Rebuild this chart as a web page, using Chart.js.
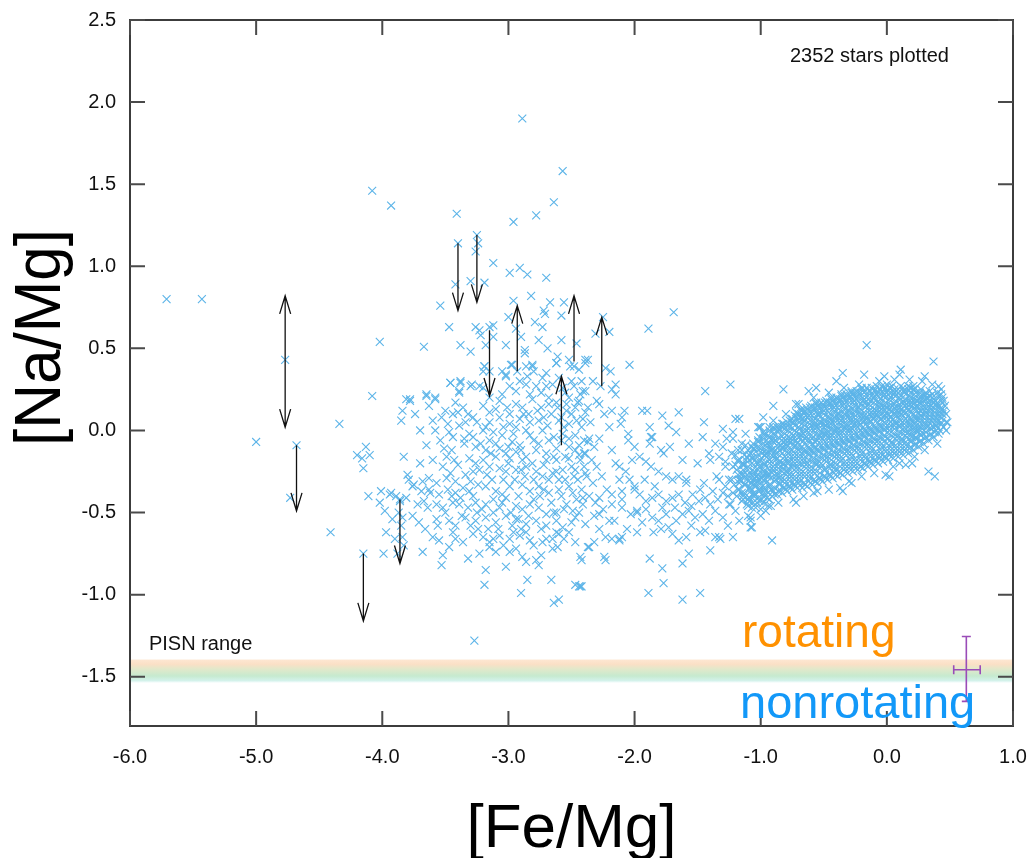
<!DOCTYPE html>
<html><head><meta charset="utf-8">
<script src="https://cdn.jsdelivr.net/npm/chart.js@4.4.1/dist/chart.umd.min.js"></script>
<style>html,body{margin:0;padding:0;background:#fff;overflow:hidden}#wrap{width:1028px;height:858px}</style>
</head><body><div id="wrap"><canvas id="c" width="1028" height="858"></canvas></div>
<script>
// ---------- axes ----------
const xRange = [-6, 1];
const yRange = [-1.8, 2.5];
const xTicks = [-6, -5, -4, -3, -2, -1, 0, 1];
const yTicks = [-1.5, -1.0, -0.5, 0, 0.5, 1.0, 1.5, 2.0, 2.5];
const xTitle = '[Fe/Mg]';
const yTitle = '[Na/Mg]';
const starCountLabel = '2352 stars plotted';

// ---------- stars ([Fe/Mg], [Na/Mg]) ----------
const sparseStars = [
[-5.71,0.80],[-5.43,0.80],[-4.08,1.46],[-3.93,1.37],[-4.02,0.54],[-4.08,0.21],[-4.77,0.43],[-4.34,0.04],
[-5.00,-0.07],[-4.68,-0.09],[-4.73,-0.41],[-4.20,-0.15],[-4.16,-0.17],[-4.13,-0.10],[-4.10,-0.15],[-4.15,-0.23],
[-4.11,-0.40],[-4.01,-0.37],[-3.93,-0.38],[-4.02,-0.44],[-3.98,-0.49],[-3.92,-0.54],[-3.89,-0.40],[-4.41,-0.62],
[-3.97,-0.62],[-4.15,-0.75],[-3.99,-0.75],[-3.88,-0.75],[-3.86,-0.42],[-3.81,0.19],[-3.87,-0.50],[-3.85,-0.58],
[-3.83,-0.70],[-3.90,-0.66]
];
const highStars = [
[-2.89,1.90],[-2.57,1.58],[-2.64,1.39],[-2.78,1.31],[-2.96,1.27],[-3.41,1.32],[-3.40,1.14],[-3.25,1.19],
[-3.24,1.14],[-3.26,1.09],[-3.12,1.02],[-2.99,0.96],[-2.91,0.99],[-2.85,0.95],[-2.70,0.93],[-3.42,0.89],
[-3.30,0.91],[-3.19,0.90],[-3.54,0.76],[-2.82,0.82],[-2.96,0.79],[-2.67,0.78],[-2.56,0.78],[-2.72,0.73],
[-2.71,0.71],[-2.58,0.70],[-3.00,0.69],[-2.79,0.66],[-2.73,0.63],[-3.47,0.63],[-3.26,0.63],[-3.23,0.61],
[-3.22,0.58],[-3.15,0.63],[-3.12,0.64],[-3.12,0.57],[-2.94,0.62],[-2.90,0.57],[-2.76,0.55],[-2.69,0.50],
[-2.58,0.55],[-2.46,0.53],[-3.38,0.52],[-3.30,0.48],[-3.67,0.51],[-3.18,0.52],[-3.02,0.52],[-2.87,0.49],
[-2.87,0.47],[-2.61,0.45],[-2.62,0.41],[-2.52,0.43],[-2.48,0.39],[-2.39,0.43],[-3.19,0.39],[-3.20,0.36],
[-3.05,0.36],[-3.02,0.33],[-2.98,0.40],[-2.93,0.36],[-2.86,0.39],[-2.81,0.40],[-2.80,0.36],[-3.46,0.29],
[-3.38,0.30],[-3.29,0.28],[-3.23,0.27],[-3.78,0.19],[-3.65,0.22],[-3.58,0.20],[-3.39,0.24],
[-1.69,0.72],[-1.89,0.62],[-2.04,0.40],[-2.25,0.69],[-2.20,0.60],[-2.31,0.59],[-2.37,0.43],[-2.23,0.38],
[-2.19,0.36],[-2.33,0.30],[-2.27,0.27],[-2.18,0.25],[-2.15,0.28],[-2.15,0.22],[-2.41,0.24],[-2.44,0.18],
[-2.37,0.14],[-2.28,0.16],[-2.18,0.12],[-2.10,0.08],[-2.11,0.04],[-1.94,0.12],[-1.90,0.12],[-1.78,0.09],
[-1.65,0.11],[-1.73,0.03],[-1.67,-0.01],[-1.86,-0.04],[-1.88,0.02],[-1.44,0.24],[-1.24,0.28],[-1.45,0.05],
[-1.30,0.01],[-1.22,-0.01],[-1.20,0.07],[-1.00,0.02],[-0.90,0.15],[-0.90,0.02]
];
const poorCloud = [
[-3.19,0.39],[-3.15,0.36],[-3.02,0.34],[-2.97,0.40],[-2.81,0.39],[-2.85,0.33],[-2.73,0.32],[-2.62,0.41],
[-2.51,0.39],[-2.44,0.37],[-2.39,0.41],[-3.46,0.29],[-3.38,0.29],[-3.30,0.27],[-3.20,0.26],[-2.99,0.27],
[-2.91,0.30],[-2.86,0.28],[-2.78,0.27],[-2.70,0.27],[-2.65,0.28],[-2.57,0.26],[-2.48,0.27],[-2.39,0.24],
[-3.39,0.23],[-3.15,0.20],[-3.05,0.22],[-2.94,0.24],[-2.83,0.22],[-2.74,0.23],[-2.68,0.20],[-2.62,0.17],
[-2.52,0.20],[-2.43,0.22],[-3.78,0.18],[-3.65,0.21],[-3.58,0.19],[-3.63,0.15],[-3.84,0.12],[-3.85,0.06],
[-3.60,0.06],[-3.53,0.08],[-3.42,0.17],[-3.40,0.11],[-3.44,0.10],[-3.20,0.15],[-3.15,0.11],[-3.07,0.18],
[-3.01,0.14],[-2.94,0.16],[-2.89,0.14],[-2.81,0.19],[-2.74,0.14],[-2.68,0.16],[-2.61,0.14],[-2.54,0.12],
[-2.47,0.14],[-2.39,0.11],[-3.39,0.03],[-3.34,0.05],[-3.28,0.08],[-3.15,0.05],[-3.07,0.08],[-2.99,0.04],
[-2.91,0.07],[-2.83,0.05],[-2.76,0.06],[-2.69,0.03],[-2.60,0.06],[-2.52,0.04],[-2.41,0.07],[-3.47,-0.01],
[-3.35,-0.05],[-3.31,-0.02],[-3.20,0.00],[-3.12,-0.01],[-3.15,-0.06],[-3.05,-0.03],[-2.97,-0.07],[-2.91,-0.09],
[-2.83,-0.03],[-2.73,0.00],[-2.68,-0.06],[-2.57,-0.02],[-2.52,-0.05],[-2.44,-0.09],[-2.37,-0.07],[-3.65,-0.09],
[-3.51,-0.11],[-3.45,-0.12],[-3.35,-0.08],[-3.26,-0.10],[-3.18,-0.12],[-3.07,-0.11],[-3.02,-0.14],[-2.94,-0.13],
[-2.86,-0.16],[-2.78,-0.12],[-2.70,-0.14],[-2.62,-0.11],[-2.47,-0.12],[-2.39,-0.14],[-3.83,-0.16],[-3.49,-0.16],
[-3.43,-0.18],[-3.31,-0.17],[-3.20,-0.18],[-3.10,-0.16],[-2.99,-0.17],[-2.89,-0.18],[-2.81,-0.20],[-2.70,-0.18],
[-2.62,-0.18],[-2.52,-0.17],[-2.43,-0.18],[-3.80,-0.27],[-3.79,-0.30],[-3.75,-0.33],[-3.68,-0.31],[-3.63,-0.29],
[-3.57,-0.32],[-3.49,-0.29],[-3.42,-0.31],[-3.34,-0.27],[-3.28,-0.25],[-3.23,-0.24],[-3.15,-0.22],[-3.07,-0.23],
[-3.02,-0.25],[-2.94,-0.24],[-2.86,-0.22],[-2.78,-0.25],[-2.73,-0.28],[-2.65,-0.26],[-2.57,-0.24],[-2.47,-0.24],
[-2.39,-0.26],[-3.76,-0.34],[-3.69,-0.37],[-3.63,-0.36],[-3.55,-0.39],[-3.48,-0.36],[-3.42,-0.38],[-3.38,-0.41],
[-3.31,-0.37],[-3.24,-0.33],[-3.18,-0.34],[-3.10,-0.37],[-3.05,-0.39],[-2.99,-0.34],[-2.89,-0.33],[-2.83,-0.37],
[-2.76,-0.34],[-2.68,-0.38],[-2.60,-0.36],[-2.49,-0.38],[-2.41,-0.41],[-3.94,-0.39],[-3.86,-0.43],[-3.81,-0.41],
[-3.67,-0.43],[-3.64,-0.47],[-3.57,-0.45],[-3.52,-0.47],[-3.44,-0.44],[-3.39,-0.45],[-3.32,-0.47],[-3.26,-0.44],
[-3.18,-0.45],[-3.12,-0.42],[-3.07,-0.47],[-3.02,-0.41],[-2.94,-0.46],[-2.89,-0.48],[-2.83,-0.45],[-2.76,-0.47],
[-2.70,-0.51],[-2.62,-0.50],[-2.54,-0.45],[-2.49,-0.49],[-2.41,-0.45],[-3.84,-0.53],[-3.71,-0.56],[-3.57,-0.54],
[-3.47,-0.55],[-3.42,-0.58],[-3.34,-0.53],[-3.26,-0.55],[-3.18,-0.53],[-3.10,-0.56],[-3.02,-0.52],[-2.94,-0.54],
[-2.86,-0.57],[-2.78,-0.55],[-2.70,-0.58],[-2.62,-0.55],[-2.57,-0.59],[-2.47,-0.53],[-2.39,-0.57],[-3.84,-0.65],
[-3.60,-0.65],[-3.55,-0.67],[-3.42,-0.66],[-3.36,-0.68],[-3.28,-0.63],[-3.20,-0.65],[-3.15,-0.68],[-3.07,-0.64],
[-2.99,-0.66],[-2.91,-0.64],[-2.83,-0.67],[-2.73,-0.68],[-2.65,-0.66],[-2.60,-0.63],[-2.47,-0.68],[-2.37,-0.71],
[-3.68,-0.74],[-3.52,-0.76],[-3.47,-0.71],[-3.32,-0.78],[-3.23,-0.75],[-3.15,-0.71],[-3.10,-0.74],[-2.99,-0.74],
[-2.94,-0.72],[-2.89,-0.77],[-2.86,-0.80],[-2.78,-0.79],[-2.74,-0.76],[-2.65,-0.72],[-2.61,-0.71],[-2.43,-0.77],
[-3.53,-0.82],[-3.18,-0.85],[-3.02,-0.83],[-2.76,-0.82],[-3.19,-0.94],[-2.85,-0.91],[-2.66,-0.91],[-2.90,-0.99],
[-2.47,-0.94],[-2.43,-0.95],[-2.64,-1.05],[-2.60,-1.03],[-3.27,-1.28]
];
const poorExtra = [
[-3.28,-0.40],[-3.21,-0.48],[-3.13,-0.30],[-3.05,-0.44],[-2.98,-0.50],[-2.92,-0.40],[-2.87,-0.28],[-2.80,-0.42],
[-2.72,-0.36],[-2.66,-0.44],[-2.58,-0.40],[-2.55,-0.30],[-2.46,-0.42],[-2.50,-0.56],[-2.90,-0.60],[-2.97,-0.58],
[-3.08,-0.60],[-3.24,-0.60],[-3.37,-0.52],[-3.45,-0.40],[-3.22,-0.08],[-3.10,-0.08],[-2.96,-0.02],[-2.86,0.00],
[-2.76,-0.08],[-2.64,-0.04],[-2.56,0.02],[-2.50,0.10],[-2.45,0.17],[-2.42,0.02],[-2.55,0.23],[-2.60,0.32],
[-2.70,0.35],[-2.77,0.12],[-2.88,0.10],[-2.99,0.10],[-3.10,0.13],[-3.25,0.05],[-3.36,0.14],[-3.48,0.04],
[-2.58,-0.06],[-2.52,-0.10],[-2.47,-0.03],[-2.44,-0.15],[-2.40,-0.06],[-2.55,-0.16],[-2.50,-0.22],[-2.62,-0.25],
[-2.45,-0.30],[-2.40,-0.22],
[-2.36,-0.05],[-2.32,-0.10],[-2.40,-0.14],[-2.34,-0.18],[-2.30,-0.22],[-2.38,-0.28],[-2.33,-0.32],[-2.42,-0.36],
[-2.36,-0.40],[-2.31,-0.44],[-2.28,-0.05],[-2.26,-0.28],[-2.22,-0.36],[-2.25,-0.48],[-2.18,-0.12],[-2.20,0.02],
[-2.15,-0.20],[-2.12,-0.30],[-2.10,-0.42],[-2.16,-0.55],[-2.08,0.12],[-2.05,-0.02],[-2.02,-0.18],[-2.06,-0.60],
[-2.00,-0.36],[-1.98,-0.50],[-2.12,-0.66],[-2.28,-0.60],[-2.32,-0.52],[-2.24,0.10],[-2.30,0.18],[-2.35,0.05],
[-3.52,-0.22],[-3.46,-0.26],[-3.40,-0.21],[-3.36,-0.35],[-3.30,-0.31],[-3.26,-0.20],[-3.17,-0.27],[-3.12,-0.50],
[-3.04,-0.30],[-3.00,-0.20],[-2.95,-0.30],[-2.90,-0.24],[-2.84,-0.52],[-2.80,-0.30],[-2.75,-0.40],[-2.72,-0.21],
[-2.68,-0.30],[-2.64,-0.50],[-2.60,-0.30],[-2.56,-0.48],[-2.52,-0.34],[-2.48,-0.28],[-2.44,-0.50],[-3.56,-0.58],
[-3.50,-0.50],[-3.44,-0.62],[-3.30,-0.58],[-3.25,-0.50],[-3.16,-0.60],[-3.12,-0.66],[-3.04,-0.70],[-2.96,-0.62],
[-2.92,-0.54],[-2.86,-0.62],[-2.80,-0.70],[-2.74,-0.60],[-2.70,-0.66],[-2.62,-0.62],[-2.56,-0.66],[-2.52,-0.62],
[-3.58,0.00],[-3.54,-0.06],[-3.50,0.12],[-3.44,-0.04],[-3.32,0.10],[-3.28,-0.04],[-3.18,0.02],[-3.14,-0.14],
[-3.04,0.02],[-3.00,-0.10],[-2.94,0.02],[-2.90,-0.12],[-2.84,0.10],[-2.80,-0.06],[-2.72,0.08],[-2.66,0.10],
[-2.64,-0.16],[-2.58,0.08],[-2.54,0.16],[-2.50,0.30],[-2.46,0.06],[-2.42,0.30],[-3.70,-0.20],[-3.72,-0.45],
[-3.66,-0.60],[-3.76,-0.52],[-3.62,-0.38],[-3.60,-0.18],[-3.70,0.00],[-3.74,0.10]
];
const bridgeStars = [
[-1.88,-0.78],[-1.78,-0.84],[-1.77,-0.93],[-1.89,-0.99],[-1.62,-1.03],[-1.48,-0.99],[-1.57,-0.75],[-1.62,-0.81],
[-1.40,-0.73],[-1.33,-0.65],[-0.91,-0.67],[-2.44,-0.95],[-2.42,-0.95],[-2.23,-0.79],[-2.24,-0.77],[-2.36,-0.71],
[-2.32,-0.68],[-2.42,-0.79],
[-1.87,-0.04],[-1.79,-0.12],[-1.77,-0.14],[-1.96,-0.16],[-1.91,-0.19],[-1.87,-0.22],[-1.81,-0.25],[-1.75,-0.28],
[-1.70,-0.30],[-1.65,-0.28],[-1.59,-0.30],[-1.57,-0.08],[-1.46,-0.04],[-1.45,-0.32],[-1.41,-0.14],[-1.36,-0.08],
[-1.33,-0.16],[-1.30,-0.10],[-1.28,-0.19],[-1.23,-0.14],[-1.20,-0.21],[-1.15,-0.08],[-1.12,-0.18],[-1.07,-0.10],
[-1.01,-0.04],[-0.96,-0.14],[-0.91,-0.06],[-0.88,-0.18],
[-2.12,-0.22],[-2.07,-0.25],[-2.04,-0.30],[-2.00,-0.34],[-1.96,-0.39],[-1.91,-0.43],[-1.86,-0.41],[-1.81,-0.39],
[-1.75,-0.43],[-1.70,-0.41],[-1.65,-0.39],[-1.59,-0.32],[-1.54,-0.39],[-1.49,-0.43],[-1.44,-0.41],[-1.38,-0.37],
[-1.33,-0.30],[-1.28,-0.34],[-1.23,-0.30],[-1.17,-0.32],[-1.12,-0.28],[-1.07,-0.39],[-1.01,-0.30],[-0.96,-0.26],
[-0.88,-0.30],
[-2.10,-0.47],[-2.03,-0.51],[-1.98,-0.49],[-1.91,-0.48],[-1.86,-0.53],[-1.81,-0.55],[-1.75,-0.51],[-1.73,-0.59],
[-1.67,-0.55],[-1.62,-0.51],[-1.57,-0.49],[-1.52,-0.53],[-1.46,-0.51],[-1.41,-0.55],[-1.36,-0.49],[-1.30,-0.53],
[-1.25,-0.45],[-1.20,-0.49],[-1.17,-0.55],[-1.08,-0.53],[-1.08,-0.59],
[-2.23,-0.65],[-2.18,-0.66],[-2.12,-0.67],[-2.10,-0.65],[-1.98,-0.62],[-1.79,-0.60],[-1.70,-0.63],[-1.65,-0.67],
[-1.59,-0.65],[-1.44,-0.61],[-1.36,-0.65],[-1.32,-0.66],
[-2.28,-0.51],[-2.20,-0.55],[-2.18,-0.45],[-2.28,-0.41],[-2.18,-0.39],[-2.10,-0.37],
[-1.92,-0.30],[-1.84,-0.34],[-1.78,-0.47],[-1.68,-0.47],[-1.60,-0.44],[-1.55,-0.46],[-1.48,-0.36],[-1.40,-0.45],
[-1.34,-0.42],[-1.26,-0.40],[-1.22,-0.38],[-1.14,-0.42],[-1.10,-0.46],[-1.04,-0.47],[-1.00,-0.52],[-0.98,-0.44],
[-1.02,-0.20],[-1.05,-0.26],[-1.18,-0.12],[-1.27,-0.05],[-1.50,-0.20],[-1.62,-0.18],[-1.72,-0.10],[-1.88,-0.08],
[-2.00,-0.10],[-2.05,-0.06],[-1.94,-0.56],[-1.85,-0.62],[-1.55,-0.58],[-1.48,-0.62],[-1.26,-0.58],[-1.22,-0.65]
];
const diskOutliers = [
[-0.16,0.52],[0.37,0.42],[0.11,0.37],[-0.35,0.35],[-0.18,0.34],[-0.02,0.33],[-0.82,0.25],[-0.56,0.26],
[-0.72,0.16],[-1.01,0.02],[-1.17,0.07],[0.33,-0.25],[0.38,-0.28],[0.15,-0.21],[0.20,-0.20],[-0.01,-0.27],
[0.02,-0.28],[-0.72,-0.44],[-1.08,-0.55],[-1.07,-0.59],[-0.96,-0.49],[-0.92,-0.46],[-0.55,-0.37],[-0.37,-0.35],
[-0.35,-0.37],[-0.28,-0.32],[0.41,0.27],[0.44,0.20],[0.45,0.12],[0.48,0.05],[0.47,0.00]
];
const diskFringe = [
[-1.25,-0.30],[-1.28,-0.22],[-1.30,-0.38],[-1.24,-0.45],[-1.35,-0.28],[-1.40,-0.18],[-1.22,-0.05],[-1.10,-0.52],
[-1.00,-0.48],[-0.94,-0.46],[-0.86,-0.44],[-0.74,-0.42],[-0.66,-0.40],[-0.58,-0.38],[-0.46,-0.36],[-0.30,-0.31],
[-0.20,-0.28],[-0.10,-0.26],[0.05,-0.22],[0.10,-0.20],[0.22,-0.16],[0.30,-0.12],[0.40,-0.08],[0.47,0.05],
[0.47,0.10],[0.46,0.15],[0.43,0.25],[0.36,0.28],[0.28,0.30],[0.18,0.31],[0.06,0.31],[-0.06,0.30],
[-0.22,0.28],[-0.34,0.26],[-0.46,0.23],[-0.58,0.20],[-0.70,0.16],[-0.80,0.10],[-0.90,0.06],[-1.02,0.02],
[-1.12,-0.02],[-0.98,0.08],[-0.62,0.24],[-0.40,0.30],[0.10,0.34],[0.30,0.33]
];
const diskCloud = [
[-1.19,-0.40],[-1.21,-0.33],[-1.18,-0.27],[-1.22,-0.22],[-1.20,-0.15],
[-1.15,-0.43],[-1.17,-0.36],[-1.16,-0.30],[-1.14,-0.24],[-1.18,-0.19],[-1.15,-0.12],
[-1.11,-0.45],[-1.13,-0.38],[-1.12,-0.33],[-1.10,-0.28],[-1.13,-0.21],[-1.11,-0.16],[-1.12,-0.09],
[-1.07,-0.47],[-1.09,-0.41],[-1.08,-0.35],[-1.06,-0.30],[-1.09,-0.26],[-1.07,-0.20],[-1.08,-0.14],[-1.06,-0.08],
[-1.03,-0.44],[-1.05,-0.39],[-1.04,-0.34],[-1.02,-0.29],[-1.05,-0.25],[-1.03,-0.19],[-1.04,-0.13],[-1.02,-0.07],
[-0.99,-0.42],[-1.01,-0.37],[-1.00,-0.32],[-0.98,-0.27],[-1.01,-0.22],[-0.99,-0.17],[-1.00,-0.11],[-0.98,-0.05],
[-0.95,-0.41],[-0.97,-0.36],[-0.96,-0.30],[-0.94,-0.26],[-0.97,-0.21],[-0.95,-0.16],[-0.96,-0.12],[-0.94,-0.07],[-0.97,-0.02],
[-0.91,-0.40],[-0.93,-0.34],[-0.92,-0.29],[-0.90,-0.24],[-0.93,-0.20],[-0.91,-0.15],[-0.92,-0.10],[-0.90,-0.05],[-0.93,0.00],
[-0.87,-0.39],[-0.89,-0.35],[-0.88,-0.30],[-0.86,-0.25],[-0.89,-0.21],[-0.87,-0.17],[-0.88,-0.12],[-0.86,-0.08],[-0.89,-0.03],[-0.87,0.02],
[-0.83,-0.38],[-0.85,-0.33],[-0.84,-0.28],[-0.82,-0.23],[-0.85,-0.19],[-0.83,-0.14],[-0.84,-0.09],[-0.82,-0.05],[-0.85,0.00],[-0.83,0.04],
[-0.79,-0.37],[-0.81,-0.32],[-0.80,-0.27],[-0.78,-0.23],[-0.81,-0.18],[-0.79,-0.13],[-0.80,-0.08],[-0.78,-0.04],[-0.81,0.01],[-0.79,0.05],
[-0.75,-0.36],[-0.77,-0.31],[-0.76,-0.26],[-0.74,-0.21],[-0.77,-0.17],[-0.75,-0.12],[-0.76,-0.07],[-0.74,-0.03],[-0.77,0.02],[-0.75,0.07],
[-0.71,-0.35],[-0.73,-0.30],[-0.72,-0.25],[-0.70,-0.20],[-0.73,-0.16],[-0.71,-0.11],[-0.72,-0.06],[-0.70,-0.02],[-0.73,0.03],[-0.71,0.08],[-0.72,0.11],
[-0.67,-0.35],[-0.69,-0.29],[-0.68,-0.24],[-0.66,-0.19],[-0.69,-0.15],[-0.67,-0.10],[-0.68,-0.05],[-0.66,0.00],[-0.69,0.05],[-0.67,0.09],[-0.68,0.12],
[-0.63,-0.34],[-0.65,-0.28],[-0.64,-0.23],[-0.62,-0.18],[-0.65,-0.13],[-0.63,-0.09],[-0.64,-0.04],[-0.62,0.01],[-0.65,0.06],[-0.63,0.10],[-0.64,0.14],
[-0.59,-0.33],[-0.61,-0.27],[-0.60,-0.22],[-0.58,-0.17],[-0.61,-0.12],[-0.59,-0.08],[-0.60,-0.03],[-0.58,0.02],[-0.61,0.06],[-0.59,0.11],[-0.60,0.15],
[-0.55,-0.32],[-0.57,-0.26],[-0.56,-0.21],[-0.54,-0.16],[-0.57,-0.11],[-0.55,-0.06],[-0.56,-0.02],[-0.54,0.03],[-0.57,0.07],[-0.55,0.12],[-0.56,0.16],
[-0.51,-0.31],[-0.53,-0.26],[-0.52,-0.20],[-0.50,-0.15],[-0.53,-0.10],[-0.51,-0.05],[-0.52,-0.01],[-0.50,0.04],[-0.53,0.08],[-0.51,0.13],[-0.52,0.17],
[-0.47,-0.30],[-0.49,-0.24],[-0.48,-0.19],[-0.46,-0.14],[-0.49,-0.09],[-0.47,-0.04],[-0.48,0.00],[-0.46,0.05],[-0.49,0.09],[-0.47,0.14],[-0.48,0.18],
[-0.43,-0.29],[-0.45,-0.23],[-0.44,-0.18],[-0.42,-0.13],[-0.45,-0.08],[-0.43,-0.03],[-0.44,0.01],[-0.42,0.06],[-0.45,0.10],[-0.43,0.15],[-0.44,0.19],
[-0.39,-0.28],[-0.41,-0.22],[-0.40,-0.17],[-0.38,-0.12],[-0.41,-0.07],[-0.39,-0.02],[-0.40,0.02],[-0.38,0.07],[-0.41,0.11],[-0.39,0.16],[-0.40,0.20],
[-0.35,-0.27],[-0.37,-0.22],[-0.36,-0.16],[-0.34,-0.11],[-0.37,-0.06],[-0.35,-0.01],[-0.36,0.03],[-0.34,0.08],[-0.37,0.12],[-0.35,0.17],[-0.36,0.21],
[-0.31,-0.26],[-0.33,-0.21],[-0.32,-0.15],[-0.30,-0.10],[-0.33,-0.05],[-0.31,0.00],[-0.32,0.04],[-0.30,0.09],[-0.33,0.13],[-0.31,0.18],[-0.32,0.22],
[-0.27,-0.25],[-0.29,-0.20],[-0.28,-0.14],[-0.26,-0.09],[-0.29,-0.04],[-0.27,0.01],[-0.28,0.05],[-0.26,0.10],[-0.29,0.14],[-0.27,0.19],[-0.28,0.23],
[-0.23,-0.24],[-0.25,-0.19],[-0.24,-0.13],[-0.22,-0.08],[-0.25,-0.03],[-0.23,0.02],[-0.24,0.06],[-0.22,0.11],[-0.25,0.15],[-0.23,0.20],[-0.24,0.24],
[-0.19,-0.23],[-0.21,-0.18],[-0.20,-0.12],[-0.18,-0.07],[-0.21,-0.02],[-0.19,0.02],[-0.20,0.07],[-0.18,0.11],[-0.21,0.16],[-0.19,0.20],[-0.20,0.25],
[-0.15,-0.22],[-0.17,-0.17],[-0.16,-0.11],[-0.14,-0.06],[-0.17,-0.01],[-0.15,0.03],[-0.16,0.08],[-0.14,0.12],[-0.17,0.17],[-0.15,0.21],[-0.16,0.26],
[-0.11,-0.21],[-0.13,-0.16],[-0.12,-0.10],[-0.10,-0.05],[-0.13,0.00],[-0.11,0.04],[-0.12,0.09],[-0.10,0.13],[-0.13,0.18],[-0.11,0.22],[-0.12,0.26],
[-0.07,-0.20],[-0.09,-0.15],[-0.08,-0.09],[-0.06,-0.04],[-0.09,0.01],[-0.07,0.05],[-0.08,0.10],[-0.06,0.14],[-0.09,0.18],[-0.07,0.23],[-0.08,0.27],
[-0.03,-0.19],[-0.05,-0.14],[-0.04,-0.08],[-0.02,-0.03],[-0.05,0.02],[-0.03,0.06],[-0.04,0.10],[-0.02,0.15],[-0.05,0.19],[-0.03,0.23],[-0.04,0.27],
[0.01,-0.18],[-0.01,-0.13],[0.00,-0.08],[0.02,-0.02],[-0.01,0.02],[0.01,0.07],[0.00,0.11],[0.02,0.15],[-0.01,0.20],[0.01,0.24],[0.00,0.28],
[0.05,-0.17],[0.03,-0.12],[0.04,-0.07],[0.06,-0.02],[0.03,0.03],[0.05,0.07],[0.04,0.12],[0.06,0.16],[0.03,0.20],[0.05,0.24],[0.04,0.27],
[0.09,-0.16],[0.07,-0.11],[0.08,-0.06],[0.10,-0.01],[0.07,0.04],[0.09,0.08],[0.08,0.12],[0.10,0.16],[0.07,0.21],[0.09,0.25],
[0.13,-0.15],[0.11,-0.10],[0.12,-0.05],[0.14,0.00],[0.11,0.04],[0.13,0.09],[0.12,0.13],[0.14,0.17],[0.11,0.21],[0.13,0.26],
[0.17,-0.14],[0.15,-0.09],[0.16,-0.04],[0.18,0.01],[0.15,0.05],[0.17,0.09],[0.16,0.14],[0.18,0.18],[0.15,0.22],[0.17,0.27],
[0.21,-0.12],[0.19,-0.07],[0.20,-0.02],[0.22,0.02],[0.19,0.06],[0.21,0.10],[0.20,0.15],[0.22,0.19],[0.19,0.23],[0.21,0.27],
[0.25,-0.10],[0.23,-0.05],[0.24,-0.01],[0.26,0.03],[0.23,0.07],[0.25,0.11],[0.24,0.15],[0.26,0.19],[0.23,0.23],
[0.29,-0.08],[0.27,-0.03],[0.28,0.01],[0.30,0.05],[0.27,0.09],[0.29,0.13],[0.28,0.17],[0.30,0.21],[0.27,0.25],
[0.33,-0.06],[0.31,-0.01],[0.32,0.03],[0.34,0.07],[0.31,0.11],[0.33,0.15],[0.32,0.19],[0.34,0.24],
[0.37,-0.04],[0.35,0.01],[0.36,0.05],[0.38,0.09],[0.35,0.13],[0.37,0.17],[0.36,0.22],
[0.41,-0.02],[0.39,0.03],[0.40,0.07],[0.42,0.11],[0.39,0.16],[0.41,0.21],
[0.45,0.02],[0.43,0.08],[0.44,0.13],[0.45,0.18]
];
const diskCloudInner = [
[-1.18,-0.36],[-1.17,-0.30],[-1.19,-0.24],[-1.18,-0.18],
[-1.14,-0.40],[-1.13,-0.33],[-1.15,-0.27],[-1.14,-0.21],[-1.13,-0.15],
[-1.10,-0.42],[-1.09,-0.35],[-1.11,-0.30],[-1.10,-0.24],[-1.09,-0.18],[-1.10,-0.12],
[-1.06,-0.44],[-1.05,-0.38],[-1.07,-0.32],[-1.06,-0.28],[-1.05,-0.23],[-1.07,-0.17],[-1.06,-0.11],
[-1.02,-0.41],[-1.01,-0.36],[-1.03,-0.31],[-1.02,-0.27],[-1.01,-0.22],[-1.03,-0.16],[-1.02,-0.10],
[-0.98,-0.40],[-0.97,-0.35],[-0.99,-0.29],[-0.98,-0.25],[-0.97,-0.20],[-0.99,-0.14],[-0.98,-0.08],[-0.97,-0.03],
[-0.94,-0.38],[-0.93,-0.33],[-0.95,-0.28],[-0.94,-0.23],[-0.93,-0.18],[-0.95,-0.14],[-0.94,-0.09],[-0.93,-0.04],
[-0.90,-0.37],[-0.89,-0.31],[-0.91,-0.26],[-0.90,-0.22],[-0.89,-0.17],[-0.91,-0.12],[-0.90,-0.07],[-0.89,-0.02],
[-0.86,-0.37],[-0.85,-0.32],[-0.87,-0.27],[-0.86,-0.23],[-0.85,-0.19],[-0.87,-0.14],[-0.86,-0.10],[-0.85,-0.05],[-0.87,0.00],
[-0.82,-0.35],[-0.81,-0.30],[-0.83,-0.25],[-0.82,-0.21],[-0.81,-0.16],[-0.83,-0.11],[-0.82,-0.07],[-0.81,-0.02],[-0.83,0.02],
[-0.78,-0.34],[-0.77,-0.29],[-0.79,-0.25],[-0.78,-0.20],[-0.77,-0.15],[-0.79,-0.10],[-0.78,-0.06],[-0.77,-0.01],[-0.79,0.03],
[-0.74,-0.33],[-0.73,-0.28],[-0.75,-0.23],[-0.74,-0.19],[-0.73,-0.14],[-0.75,-0.09],[-0.74,-0.05],[-0.73,0.00],[-0.75,0.05],
[-0.70,-0.32],[-0.69,-0.27],[-0.71,-0.22],[-0.70,-0.18],[-0.69,-0.13],[-0.71,-0.08],[-0.70,-0.04],[-0.69,0.01],[-0.71,0.06],[-0.70,0.10],
[-0.66,-0.32],[-0.65,-0.26],[-0.67,-0.21],[-0.66,-0.17],[-0.65,-0.12],[-0.67,-0.07],[-0.66,-0.02],[-0.65,0.03],[-0.67,0.07],[-0.66,0.11],
[-0.62,-0.31],[-0.61,-0.25],[-0.63,-0.20],[-0.62,-0.15],[-0.61,-0.11],[-0.63,-0.06],[-0.62,-0.01],[-0.61,0.04],[-0.63,0.08],[-0.62,0.12],
[-0.58,-0.30],[-0.57,-0.24],[-0.59,-0.19],[-0.58,-0.14],[-0.57,-0.10],[-0.59,-0.05],[-0.58,0.00],[-0.57,0.04],[-0.59,0.09],[-0.58,0.13],
[-0.54,-0.29],[-0.53,-0.23],[-0.55,-0.18],[-0.54,-0.13],[-0.53,-0.08],[-0.55,-0.04],[-0.54,0.01],[-0.53,0.05],[-0.55,0.10],[-0.54,0.14],
[-0.50,-0.28],[-0.49,-0.23],[-0.51,-0.17],[-0.50,-0.12],[-0.49,-0.07],[-0.51,-0.03],[-0.50,0.02],[-0.49,0.06],[-0.51,0.11],[-0.50,0.15],
[-0.46,-0.27],[-0.45,-0.21],[-0.47,-0.16],[-0.46,-0.11],[-0.45,-0.06],[-0.47,-0.02],[-0.46,0.03],[-0.45,0.07],[-0.47,0.12],[-0.46,0.16],
[-0.42,-0.26],[-0.41,-0.20],[-0.43,-0.15],[-0.42,-0.10],[-0.41,-0.05],[-0.43,-0.01],[-0.42,0.04],[-0.41,0.08],[-0.43,0.13],[-0.42,0.17],
[-0.38,-0.25],[-0.37,-0.19],[-0.39,-0.14],[-0.38,-0.09],[-0.37,-0.04],[-0.39,0.00],[-0.38,0.05],[-0.37,0.09],[-0.39,0.14],[-0.38,0.18],
[-0.34,-0.24],[-0.33,-0.19],[-0.35,-0.13],[-0.34,-0.08],[-0.33,-0.03],[-0.35,0.01],[-0.34,0.06],[-0.33,0.10],[-0.35,0.15],[-0.34,0.19],
[-0.30,-0.23],[-0.29,-0.18],[-0.31,-0.12],[-0.30,-0.07],[-0.29,-0.02],[-0.31,0.02],[-0.30,0.07],[-0.29,0.11],[-0.31,0.16],[-0.30,0.20],
[-0.26,-0.22],[-0.25,-0.17],[-0.27,-0.11],[-0.26,-0.06],[-0.25,-0.01],[-0.27,0.03],[-0.26,0.08],[-0.25,0.12],[-0.27,0.17],[-0.26,0.21],
[-0.22,-0.21],[-0.21,-0.16],[-0.23,-0.10],[-0.22,-0.05],[-0.21,0.00],[-0.23,0.04],[-0.22,0.09],[-0.21,0.13],[-0.23,0.18],[-0.22,0.22],
[-0.18,-0.20],[-0.17,-0.15],[-0.19,-0.09],[-0.18,-0.04],[-0.17,0.00],[-0.19,0.05],[-0.18,0.09],[-0.17,0.14],[-0.19,0.18],[-0.18,0.23],
[-0.14,-0.19],[-0.13,-0.14],[-0.15,-0.08],[-0.14,-0.03],[-0.13,0.01],[-0.15,0.06],[-0.14,0.10],[-0.13,0.15],[-0.15,0.19],[-0.14,0.24],
[-0.10,-0.18],[-0.09,-0.13],[-0.11,-0.07],[-0.10,-0.02],[-0.09,0.02],[-0.11,0.07],[-0.10,0.11],[-0.09,0.16],[-0.11,0.20],[-0.10,0.24],
[-0.06,-0.17],[-0.05,-0.12],[-0.07,-0.06],[-0.06,-0.01],[-0.05,0.03],[-0.07,0.08],[-0.06,0.12],[-0.05,0.16],[-0.07,0.21],[-0.06,0.25],
[-0.02,-0.16],[-0.01,-0.11],[-0.03,-0.05],[-0.02,0.00],[-0.01,0.04],[-0.03,0.08],[-0.02,0.13],[-0.01,0.17],[-0.03,0.21],[-0.02,0.25],
[0.02,-0.15],[0.03,-0.10],[0.01,-0.05],[0.02,0.00],[0.03,0.05],[0.01,0.09],[0.02,0.13],[0.03,0.18],[0.01,0.22],[0.02,0.26],
[0.06,-0.14],[0.07,-0.09],[0.05,-0.04],[0.06,0.01],[0.07,0.05],[0.05,0.10],[0.06,0.14],[0.07,0.18],[0.05,0.22],[0.06,0.25],
[0.10,-0.13],[0.11,-0.08],[0.09,-0.03],[0.10,0.02],[0.11,0.06],[0.09,0.10],[0.10,0.14],[0.11,0.19],[0.09,0.23],
[0.14,-0.12],[0.15,-0.07],[0.13,-0.02],[0.14,0.02],[0.15,0.07],[0.13,0.11],[0.14,0.15],[0.15,0.19],[0.13,0.24],
[0.18,-0.11],[0.19,-0.06],[0.17,-0.01],[0.18,0.03],[0.19,0.07],[0.17,0.12],[0.18,0.16],[0.19,0.20],[0.17,0.25],
[0.22,-0.09],[0.23,-0.04],[0.21,0.00],[0.22,0.04],[0.23,0.08],[0.21,0.13],[0.22,0.17],[0.23,0.21],[0.21,0.25],
[0.26,-0.07],[0.27,-0.03],[0.25,0.01],[0.26,0.05],[0.27,0.09],[0.25,0.13],[0.26,0.17],[0.27,0.21],
[0.30,-0.05],[0.31,-0.01],[0.29,0.03],[0.30,0.07],[0.31,0.11],[0.29,0.15],[0.30,0.19],[0.31,0.23],
[0.34,-0.03],[0.35,0.01],[0.33,0.05],[0.34,0.09],[0.35,0.13],[0.33,0.17],[0.34,0.21],
[0.38,-0.01],[0.39,0.03],[0.37,0.07],[0.38,0.11],[0.39,0.15],[0.37,0.19],
[0.42,0.00],[0.43,0.05],[0.41,0.09],[0.42,0.13],[0.43,0.18]
];
const diskCloudFill = [
[-1.15,-0.38],[-1.16,-0.31],[-1.14,-0.20],[-1.15,-0.26],
[-1.09,-0.43],[-1.08,-0.32],[-1.10,-0.22],[-1.09,-0.15],[-1.08,-0.37],
[-1.05,-0.40],[-1.04,-0.28],[-1.06,-0.17],[-1.05,-0.11],[-1.04,-0.33],
[-1.01,-0.43],[-1.00,-0.35],[-1.02,-0.24],[-1.01,-0.19],[-1.00,-0.13],[-1.02,-0.06],
[-0.97,-0.38],[-0.96,-0.32],[-0.98,-0.23],[-0.97,-0.15],[-0.96,-0.09],[-0.98,-0.01],
[-0.93,-0.42],[-0.92,-0.36],[-0.94,-0.27],[-0.93,-0.18],[-0.92,-0.12],[-0.94,-0.03],[-0.93,0.02],
[-0.89,-0.39],[-0.88,-0.28],[-0.90,-0.24],[-0.89,-0.15],[-0.88,-0.06],[-0.90,0.01],
[-0.85,-0.36],[-0.84,-0.30],[-0.86,-0.21],[-0.85,-0.12],[-0.84,-0.03],[-0.86,0.03],
[-0.81,-0.35],[-0.80,-0.25],[-0.82,-0.20],[-0.81,-0.10],[-0.80,-0.06],[-0.82,0.04],
[-0.77,-0.34],[-0.76,-0.28],[-0.78,-0.19],[-0.77,-0.13],[-0.76,-0.05],[-0.78,0.00],[-0.77,0.06],
[-0.73,-0.33],[-0.72,-0.23],[-0.74,-0.17],[-0.73,-0.09],[-0.72,-0.01],[-0.74,0.05],[-0.73,0.09],
[-0.69,-0.31],[-0.68,-0.26],[-0.70,-0.16],[-0.69,-0.11],[-0.68,-0.03],[-0.70,0.02],[-0.69,0.08],[-0.68,0.13],
[-0.65,-0.33],[-0.64,-0.21],[-0.66,-0.15],[-0.65,-0.05],[-0.64,0.00],[-0.66,0.05],[-0.65,0.12],
[-0.61,-0.29],[-0.60,-0.24],[-0.62,-0.14],[-0.61,-0.06],[-0.60,0.03],[-0.62,0.09],[-0.61,0.14],
[-0.57,-0.31],[-0.56,-0.20],[-0.58,-0.13],[-0.57,-0.07],[-0.56,0.02],[-0.58,0.06],[-0.57,0.14],[-0.56,0.17],
[-0.53,-0.29],[-0.52,-0.22],[-0.54,-0.12],[-0.53,-0.03],[-0.52,0.05],[-0.54,0.10],[-0.53,0.16],
[-0.49,-0.28],[-0.48,-0.17],[-0.50,-0.11],[-0.49,-0.02],[-0.48,0.03],[-0.50,0.12],[-0.49,0.17],
[-0.45,-0.27],[-0.44,-0.21],[-0.46,-0.10],[-0.45,-0.04],[-0.44,0.04],[-0.46,0.08],[-0.45,0.17],[-0.44,0.20],
[-0.41,-0.24],[-0.40,-0.15],[-0.42,-0.09],[-0.41,0.00],[-0.40,0.09],[-0.42,0.14],[-0.41,0.19],
[-0.37,-0.26],[-0.36,-0.18],[-0.38,-0.08],[-0.37,-0.02],[-0.36,0.06],[-0.38,0.10],[-0.37,0.19],[-0.36,0.22],
[-0.33,-0.23],[-0.32,-0.13],[-0.34,-0.07],[-0.33,0.02],[-0.32,0.11],[-0.34,0.16],[-0.33,0.21],
[-0.29,-0.22],[-0.28,-0.16],[-0.30,-0.06],[-0.29,0.00],[-0.28,0.07],[-0.30,0.12],[-0.29,0.21],[-0.28,0.24],
[-0.25,-0.21],[-0.24,-0.11],[-0.26,-0.05],[-0.25,0.04],[-0.24,0.13],[-0.26,0.18],[-0.25,0.23],
[-0.21,-0.22],[-0.20,-0.14],[-0.22,-0.04],[-0.21,0.04],[-0.20,0.09],[-0.22,0.14],[-0.21,0.23],[-0.20,0.26],
[-0.17,-0.20],[-0.16,-0.09],[-0.18,-0.03],[-0.17,0.06],[-0.16,0.15],[-0.18,0.19],[-0.17,0.24],
[-0.13,-0.19],[-0.12,-0.12],[-0.14,-0.02],[-0.13,0.06],[-0.12,0.11],[-0.14,0.16],[-0.13,0.24],
[-0.09,-0.18],[-0.08,-0.07],[-0.10,-0.01],[-0.09,0.08],[-0.08,0.12],[-0.10,0.20],[-0.09,0.25],
[-0.05,-0.16],[-0.04,-0.10],[-0.06,0.00],[-0.05,0.07],[-0.04,0.13],[-0.06,0.17],[-0.05,0.25],
[-0.01,-0.16],[0.00,-0.05],[-0.02,0.01],[-0.01,0.09],[0.00,0.14],[-0.02,0.22],[-0.01,0.26],
[0.03,-0.14],[0.04,-0.08],[0.02,0.02],[0.03,0.08],[0.04,0.15],[0.02,0.19],[0.03,0.26],
[0.07,-0.13],[0.08,-0.04],[0.06,0.03],[0.07,0.10],[0.08,0.14],[0.06,0.23],
[0.11,-0.12],[0.12,-0.06],[0.10,0.03],[0.11,0.10],[0.12,0.17],[0.10,0.20],[0.11,0.27],
[0.15,-0.11],[0.16,-0.02],[0.14,0.04],[0.15,0.11],[0.16,0.16],[0.14,0.24],
[0.19,-0.10],[0.20,-0.04],[0.18,0.04],[0.19,0.12],[0.20,0.17],[0.18,0.21],[0.19,0.26],
[0.23,-0.08],[0.24,0.00],[0.22,0.05],[0.23,0.13],[0.24,0.18],[0.22,0.25],
[0.27,-0.06],[0.28,-0.01],[0.26,0.07],[0.27,0.12],[0.28,0.19],[0.26,0.23],
[0.31,-0.04],[0.32,0.02],[0.30,0.09],[0.31,0.13],[0.32,0.20],[0.30,0.22],
[0.35,-0.02],[0.36,0.03],[0.34,0.11],[0.35,0.15],[0.36,0.20],
[0.39,0.00],[0.40,0.05],[0.38,0.13],[0.39,0.18],[0.40,0.23],
[0.43,0.04],[0.44,0.10],[0.42,0.15],[0.43,0.22]
];

// ---------- upper / lower limits (arrows) ----------
const limitX    = [-4.77, -4.77, -4.68, -4.15, -3.86, -3.40, -3.25, -3.15, -2.93, -2.48, -2.58, -2.26];
const limitFrom = [ 0.43,  0.43, -0.09, -0.75, -0.42,  1.14,  1.19,  0.61,  0.36,  0.42, -0.09,  0.27];
const limitTo   = [ 0.82,  0.02, -0.49, -1.16, -0.81,  0.73,  0.78,  0.21,  0.76,  0.82,  0.33,  0.69];

// ---------- PISN band, typical error ----------
const rotatingBand    = [-1.40, -1.45];
const nonrotatingBand = [-1.45, -1.52];
const errCenter = [0.63, -1.457];
const errXRange = [0.53, 0.74];
const errYRange = [-1.255, -1.65];

// ---------- text anchors (data coordinates) ----------
const labelAnchors = {
  stars: [-0.768, 2.243],
  pisn: [-5.85, -1.337],
  rotating: [-1.148, -1.319],
  nonrotating: [-1.164, -1.751]
};

const FONT = '"Liberation Sans", Arial, Helvetica, sans-serif';
const STAR = '#5cb4e8';

const decor = {
  id: 'decor',
  beforeDatasetsDraw(chart) {
    const {ctx, chartArea: a, scales: {y}} = chart;
    const top = y.getPixelForValue(rotatingBand[0] + 0.01);
    const bot = y.getPixelForValue(nonrotatingBand[1] - 0.02);
    const f = v => (y.getPixelForValue(v) - top) / (bot - top);
    const g = ctx.createLinearGradient(0, top, 0, bot);
    g.addColorStop(0, 'rgba(255,238,220,0)');
    g.addColorStop(Math.max(0, f(rotatingBand[0])), 'rgba(253,230,208,1)');
    g.addColorStop(f((rotatingBand[0] + rotatingBand[1]) / 2), 'rgba(250,224,198,1)');
    g.addColorStop(f(rotatingBand[1]), 'rgba(228,232,202,1)');
    g.addColorStop(f((nonrotatingBand[0] + nonrotatingBand[1]) / 2 - 0.01), 'rgba(198,234,207,1)');
    g.addColorStop(f(nonrotatingBand[1] - 0.005), 'rgba(212,242,236,1)');
    g.addColorStop(1, 'rgba(235,250,250,0)');
    ctx.save();
    ctx.fillStyle = g;
    ctx.fillRect(a.left, top, a.right - a.left, bot - top);
    ctx.restore();
  },
  afterDatasetsDraw(chart) {
    const {ctx, scales: {x, y}} = chart;
    ctx.save();
    ctx.strokeStyle = '#111';
    ctx.lineWidth = 1.3;
    for (let i = 0; i < limitX.length; i++) {
      const px = x.getPixelForValue(limitX[i]);
      const p0 = y.getPixelForValue(limitFrom[i]);
      const p1 = y.getPixelForValue(limitTo[i]);
      const d = Math.sign(p1 - p0);
      ctx.beginPath();
      ctx.moveTo(px, p0); ctx.lineTo(px, p1);
      ctx.moveTo(px - 5.5, p1 - d * 18); ctx.lineTo(px, p1); ctx.lineTo(px + 5.5, p1 - d * 18);
      ctx.stroke();
    }
    const cx = x.getPixelForValue(errCenter[0]), cy = y.getPixelForValue(errCenter[1]);
    const xl = x.getPixelForValue(errXRange[0]), xr = x.getPixelForValue(errXRange[1]);
    const yt = y.getPixelForValue(errYRange[0]), yb = y.getPixelForValue(errYRange[1]);
    ctx.strokeStyle = '#9a4cb8';
    ctx.lineWidth = 1.6;
    ctx.beginPath();
    ctx.moveTo(xl, cy); ctx.lineTo(xr, cy);
    ctx.moveTo(xl, cy - 4.5); ctx.lineTo(xl, cy + 4.5);
    ctx.moveTo(xr, cy - 4.5); ctx.lineTo(xr, cy + 4.5);
    ctx.moveTo(cx, yt); ctx.lineTo(cx, yb);
    ctx.moveTo(cx - 4.5, yt); ctx.lineTo(cx + 4.5, yt);
    ctx.moveTo(cx - 4.5, yb); ctx.lineTo(cx + 4.5, yb);
    ctx.stroke();
    ctx.restore();
  },
  afterDraw(chart) {
    const {ctx, chartArea: a, scales: {x, y}} = chart;
    ctx.save();
    ctx.strokeStyle = '#3c3c3c';
    ctx.lineWidth = 2;
    ctx.strokeRect(a.left, a.top, a.right - a.left, a.bottom - a.top);
    ctx.strokeStyle = '#4a4a4a';
    ctx.beginPath();
    xTicks.forEach(v => {
      const p = x.getPixelForValue(v);
      ctx.moveTo(p, a.bottom); ctx.lineTo(p, a.bottom - 15);
      ctx.moveTo(p, a.top); ctx.lineTo(p, a.top + 15);
    });
    yTicks.forEach(v => {
      const p = y.getPixelForValue(v);
      ctx.moveTo(a.left, p); ctx.lineTo(a.left + 15, p);
      ctx.moveTo(a.right, p); ctx.lineTo(a.right - 15, p);
    });
    ctx.stroke();
    const at = k => [x.getPixelForValue(labelAnchors[k][0]), y.getPixelForValue(labelAnchors[k][1])];
    ctx.textBaseline = 'alphabetic';
    ctx.textAlign = 'left';
    ctx.fillStyle = '#111';
    ctx.font = '20px ' + FONT;
    let p = at('stars'); ctx.fillText(starCountLabel, p[0], p[1]);
    p = at('pisn'); ctx.fillText('PISN range', p[0], p[1]);
    ctx.font = '46px ' + FONT;
    ctx.fillStyle = '#ff9100';
    p = at('rotating'); ctx.fillText('rotating', p[0], p[1]);
    ctx.font = '47px ' + FONT;
    ctx.fillStyle = '#1298f8';
    p = at('nonrotating'); ctx.fillText('nonrotating', p[0], p[1]);
    ctx.fillStyle = '#000';
    ctx.font = '62px ' + FONT;
    ctx.textAlign = 'center';
    ctx.fillText(xTitle, (a.left + a.right) / 2, 847);
    ctx.translate(60, 337.5);
    ctx.rotate(-Math.PI / 2);
    ctx.scale(1, 1.06);
    ctx.fillText(yTitle, 0, 0);
    ctx.restore();
  }
};

const allStars = [].concat(sparseStars, highStars, poorCloud, poorExtra, bridgeStars,
                           diskOutliers, diskFringe, diskCloud, diskCloudInner, diskCloudFill);

new Chart(document.getElementById('c'), {
  type: 'scatter',
  data: {
    datasets: [{
      data: allStars.map(s => ({x: s[0], y: s[1]})),
      pointStyle: 'crossRot',
      radius: 5.6,
      borderColor: STAR,
      backgroundColor: STAR,
      borderWidth: 1.1
    }]
  },
  options: {
    responsive: false,
    animation: false,
    devicePixelRatio: 1,
    events: [],
    layout: {padding: {top: 20, right: 15, left: 0, bottom: 0}},
    plugins: {legend: {display: false}, tooltip: {enabled: false}},
    scales: {
      x: {
        type: 'linear', min: xRange[0], max: xRange[1],
        afterBuildTicks: s => { s.ticks = xTicks.map(v => ({value: v})); },
        afterFit: s => { s.height = 132; s.paddingLeft = 0; s.paddingRight = 0; },
        ticks: {callback: v => Number(v).toFixed(1), font: {family: FONT, size: 20}, color: '#111', padding: 19, maxRotation: 0, autoSkip: false},
        grid: {display: false, drawTicks: false},
        border: {display: false}
      },
      y: {
        type: 'linear', min: yRange[0], max: yRange[1],
        afterBuildTicks: s => { s.ticks = yTicks.map(v => ({value: v})); },
        afterFit: s => { s.width = 130; s.paddingTop = 0; s.paddingBottom = 0; },
        ticks: {callback: v => Number(v).toFixed(1), font: {family: FONT, size: 20}, color: '#111', padding: 14, autoSkip: false},
        grid: {display: false, drawTicks: false},
        border: {display: false}
      }
    }
  },
  plugins: [decor]
});
</script>
</body></html>
